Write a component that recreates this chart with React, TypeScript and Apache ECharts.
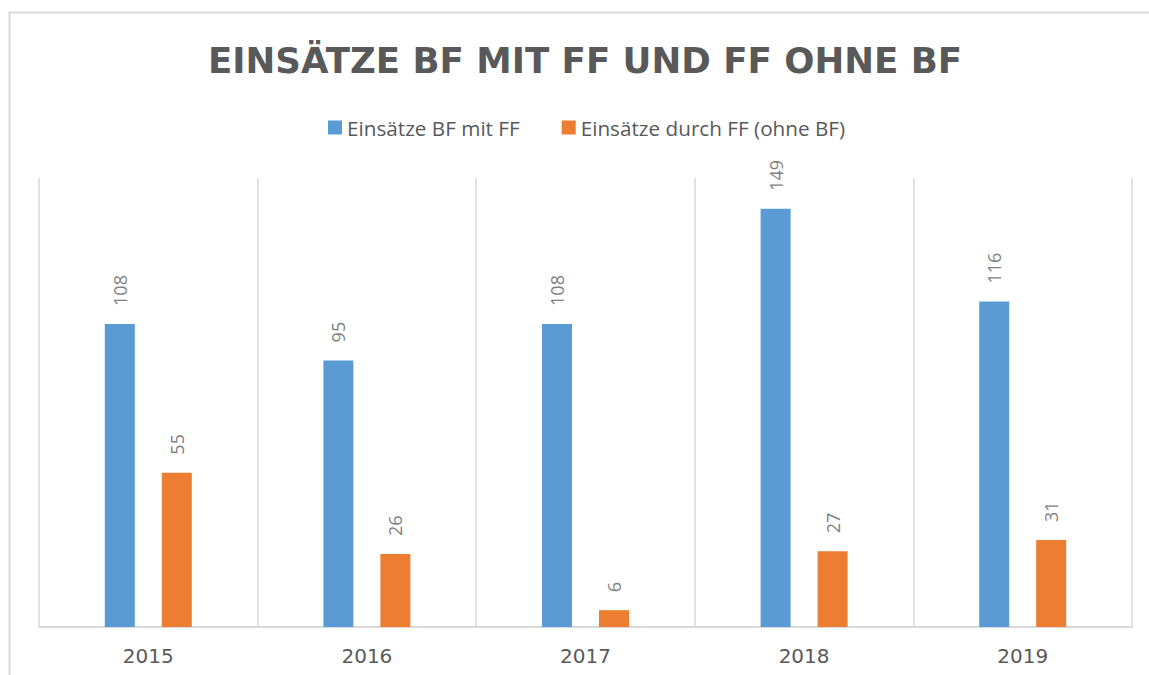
import React, { useEffect, useRef } from "react";
import * as echarts from "echarts";

const categories = ["2015", "2016", "2017", "2018", "2019"];
const seriesNames = ["Einsätze BF mit FF", "Einsätze durch FF (ohne BF)"];
const bfMitFF = [108, 95, 108, 149, 116];
const ffOhneBF = [55, 26, 6, 27, 31];
const titleText = "EINSÄTZE BF MIT FF UND FF OHNE BF";

export default function App() {
  const ref = useRef<HTMLDivElement>(null);
  useEffect(() => {
    if (!ref.current) return;
    const chart = echarts.init(ref.current, null, { renderer: "svg" });
    const labelCfg = {
      show: true,
      position: "top",
      rotate: 90,
      align: "left",
      verticalAlign: "middle",
      distance: 18,
      color: "#7f7f7f",
      fontFamily: "Open Sans",
      fontSize: 18,
    };
    chart.setOption({
      animation: false,
      backgroundColor: "#ffffff",
      title: {
        text: titleText,
        left: 203,
        top: 37,
        textStyle: {
          fontFamily: "DejaVu Sans",
          fontWeight: "bold",
          fontSize: 35.6,
          color: "#595959",
        },
      },
      legend: {
        data: seriesNames,
        left: 323,
        top: 112,
        icon: "rect",
        itemWidth: 14,
        itemHeight: 14,
        itemGap: 42,
        textStyle: { fontFamily: "Open Sans", fontSize: 20.7, color: "#595959" },
      },
      graphic: [
        {
          type: "rect",
          shape: { x: 9.5, y: 12.5, width: 1300, height: 800 },
          style: { fill: "none", stroke: "#d9d9d9", lineWidth: 2 },
          silent: true,
        },
      ],
      grid: { left: 39, right: 17, top: 178, bottom: 48 },
      xAxis: {
        type: "category",
        data: categories,
        axisLine: { show: true, lineStyle: { color: "#d9d9d9", width: 2 } },
        axisTick: { show: false },
        splitLine: { show: true, lineStyle: { color: "#d9d9d9", width: 1.5 } },
        axisLabel: {
          margin: 19,
          fontFamily: "DejaVu Sans",
          fontSize: 20,
          color: "#595959",
        },
      },
      yAxis: {
        type: "value",
        min: 0,
        max: 160,
        show: false,
        splitLine: { show: false },
      },
      series: [
        {
          name: seriesNames[0],
          type: "bar",
          data: bfMitFF,
          barWidth: 30,
          barGap: "90%",
          itemStyle: { color: "#5b9bd5" },
          label: labelCfg,
        },
        {
          name: seriesNames[1],
          type: "bar",
          data: ffOhneBF,
          barWidth: 30,
          itemStyle: { color: "#ed7d31" },
          label: labelCfg,
        },
      ],
    });
    return () => chart.dispose();
  }, []);
  return (
    <div
      ref={ref}
      style={{ position: "fixed", left: 0, top: 0, width: 1149, height: 675 }}
    />
  );
}
